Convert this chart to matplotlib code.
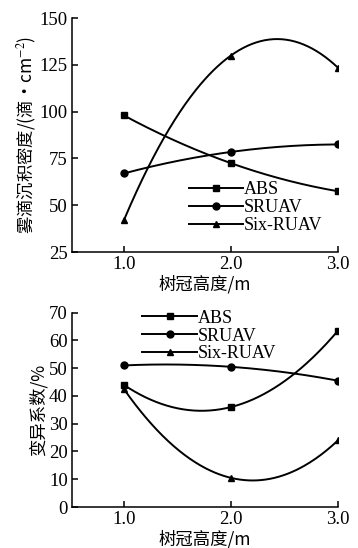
import matplotlib
matplotlib.use("Agg")
import matplotlib.pyplot as plt
import numpy as np

# datos
alturas = [1.0, 2.0, 3.0]
series = ["ABS", "SRUAV", "Six-RUAV"]
marcadores = ["s", "o", "^"]

densidad_abs = [98, 72.5, 57.5]
densidad_sruav = [67, 78.5, 82.5]
densidad_six = [42, 130, 123.5]

cv_abs = [44, 36, 63.5]
cv_sruav = [51, 50.5, 45.5]
cv_six = [42.5, 10.5, 24]

ticks_x = ["1.0", "2.0", "3.0"]

plt.rcParams['font.family'] = ['Liberation Serif', 'Noto Sans CJK SC']
plt.rcParams['mathtext.fontset'] = 'stix'
fuente_cjk = ['Noto Sans CJK SC', 'Liberation Serif']


def curva(ax, x, y, marker, label):
	'''Dibuja la curva suavizada (polinomio por los 3 puntos) y los marcadores.'''
	coef = np.polyfit(x, y, 2)
	xs = np.linspace(min(x), max(x), 200)
	ax.plot(xs, np.polyval(coef, xs), color='k', lw=1.4)
	ax.plot(x, y, marker=marker, color='k', ms=5, lw=0)
	ax.plot([], [], marker=marker, color='k', ms=5, lw=1.4, label=label)


def estilo(ax):
	ax.spines['top'].set_visible(False)
	ax.spines['right'].set_visible(False)
	for s in ['left', 'bottom']:
		ax.spines[s].set_linewidth(1.1)
	ax.tick_params(direction='in', length=4, width=1.1, labelsize=13.5, pad=3)
	ax.set_xlim(0.515, 3.0)
	ax.set_xticks(alturas)
	ax.set_xticklabels(ticks_x)
	ax.set_xlabel('树冠高度/m', family=fuente_cjk, fontsize=12.5, labelpad=1)


fig = plt.figure(figsize=(3.58, 5.48), dpi=100)

ax1 = fig.add_axes([0.201, 0.540, 0.743, 0.427])
for y, m, s in zip([densidad_abs, densidad_sruav, densidad_six], marcadores, series):
	curva(ax1, alturas, y, m, s)
estilo(ax1)
ax1.set_ylim(25, 150)
ax1.set_yticks([25, 50, 75, 100, 125, 150])
ax1.set_ylabel('雾滴沉积密度/(滴·cm$^{-2}$)', family=fuente_cjk, fontsize=12.5, labelpad=1)
ax1.legend(loc='center left', bbox_to_anchor=(0.44, 0.19), frameon=False,
	handlelength=3.0, handletextpad=0.05, labelspacing=0.05, fontsize=13,
	borderaxespad=0, borderpad=0)

ax2 = fig.add_axes([0.201, 0.0748, 0.743, 0.3546])
for y, m, s in zip([cv_abs, cv_sruav, cv_six], marcadores, series):
	curva(ax2, alturas, y, m, s)
estilo(ax2)
ax2.set_ylim(0, 70)
ax2.set_yticks(range(0, 71, 10))
ax2.set_ylabel('变异系数/%', family=fuente_cjk, fontsize=12.5, labelpad=1)
ax2.legend(loc='center left', bbox_to_anchor=(0.265, 0.88), frameon=False,
	handlelength=3.0, handletextpad=0.05, labelspacing=0.05, fontsize=13,
	borderaxespad=0, borderpad=0)

fig.savefig('out.png', dpi=100)
